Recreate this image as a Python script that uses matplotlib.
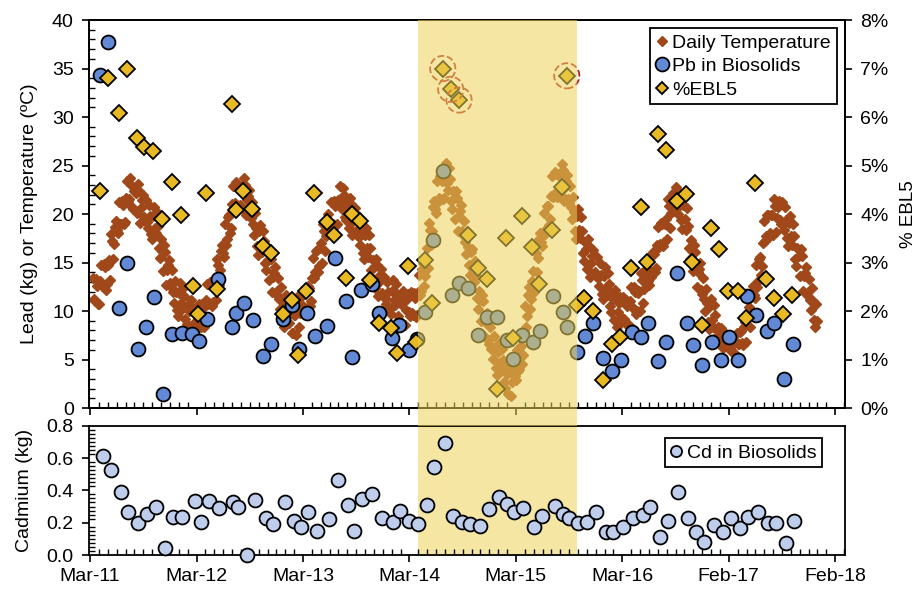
import numpy as np
import matplotlib
matplotlib.use("Agg")
import matplotlib.pyplot as plt
from matplotlib.lines import Line2D
from matplotlib.ticker import FixedLocator, MultipleLocator, FuncFormatter

plt.rcParams['font.family'] = ['Liberation Sans', 'DejaVu Sans']

# ---- x axis (decimal years) ----
tick_labels = ['Mar-11', 'Mar-12', 'Mar-13', 'Mar-14', 'Mar-15', 'Mar-16', 'Feb-17', 'Feb-18']
first_tick = 2011.17
x_min, x_max = 2011.16, 2018.262
shade_start, shade_end = 2014.251, 2015.740

# ---- daily temperature ----
temp_start = 2011.194
temp_step_days = 7
temp_wk = [
    13.4, 11.0, 12.6, 10.7, 14.7, 12.6, 14.5, 12.8, 15.3, 17.9, 15.4, 18.7, 18.4,
    21.2, 19.0, 20.9, 19.2, 23.4, 21.5, 23.0, 20.5, 22.2, 23.1, 19.1, 21.4, 19.7,
    21.4, 18.6, 19.8, 17.4, 20.7, 18.0, 18.8, 15.5, 16.2, 16.8, 12.7, 14.7, 12.9,
    14.2, 10.8, 12.0, 9.5, 12.9, 10.2, 11.5, 8.7, 10.0, 11.1, 7.3, 9.7, 8.6,
    10.7, 8.4, 10.3, 8.7, 12.8, 10.8, 12.8, 10.9, 13.2, 15.4, 12.7, 16.2, 16.0,
    19.0, 17.4, 19.9, 18.6, 22.9, 21.1, 23.0, 20.9, 22.6, 23.7, 19.9, 21.9, 20.0,
    21.2, 17.8, 18.6, 15.8, 18.9, 16.1, 17.2, 14.2, 15.3, 16.1, 12.0, 13.9, 12.0,
    13.4, 10.2, 11.1, 8.4, 11.6, 8.8, 10.0, 7.7, 9.6, 11.4, 8.3, 11.4, 10.5,
    12.4, 10.3, 12.4, 11.0, 15.5, 14.0, 16.3, 14.6, 17.0, 19.0, 16.2, 19.4, 18.7,
    21.2, 19.0, 20.8, 19.0, 22.9, 20.5, 22.0, 19.4, 20.7, 21.7, 17.8, 20.0, 18.2,
    19.8, 16.8, 17.9, 15.4, 18.6, 15.6, 16.5, 13.4, 14.5, 15.4, 11.5, 13.7, 11.9,
    13.5, 10.7, 12.0, 9.7, 13.2, 10.6, 11.8, 9.1, 10.7, 12.1, 8.6, 11.2, 9.9,
    12.0, 9.6, 11.3, 9.6, 13.7, 12.1, 14.9, 13.6, 16.5, 19.1, 16.8, 20.7, 20.5,
    23.4, 21.6, 23.4, 21.6, 25.3, 22.5, 23.6, 20.5, 21.6, 22.4, 18.3, 20.3, 18.2,
    19.3, 15.9, 16.6, 13.7, 16.4, 13.0, 13.6, 10.2, 11.1, 11.7, 7.4, 9.2, 7.0,
    8.3, 5.1, 6.0, 3.4, 6.7, 3.9, 5.0, 2.1, 3.5, 4.7, 1.2, 4.2, 3.3,
    6.0, 4.0, 6.4, 5.5, 10.5, 9.5, 12.5, 11.2, 14.1, 16.7, 14.0, 17.4, 17.1,
    20.1, 18.5, 20.8, 19.5, 23.9, 22.1, 24.1, 22.0, 24.1, 25.2, 21.3, 23.4, 21.5,
    22.9, 19.5, 20.2, 17.4, 20.5, 17.5, 18.3, 15.2, 16.4, 17.4, 13.5, 15.7, 14.0,
    15.6, 12.6, 13.7, 11.2, 14.5, 11.7, 12.8, 9.9, 11.2, 12.2, 8.4, 10.8, 9.4,
    11.4, 8.8, 10.5, 8.6, 12.5, 10.3, 12.0, 10.0, 12.1, 13.9, 10.8, 13.8, 13.1,
    15.7, 13.8, 15.9, 14.4, 18.7, 16.9, 19.0, 17.1, 19.5, 21.5, 18.6, 21.6, 20.7,
    22.8, 20.0, 21.3, 18.5, 21.6, 18.4, 18.8, 15.4, 16.2, 16.8, 12.5, 14.3, 12.2,
    13.4, 10.0, 10.8, 8.1, 11.2, 8.4, 9.6, 7.3, 7.8, 8.2, 6.2, 7.4, 6.5,
    7.3, 5.9, 6.7, 5.6, 7.7, 6.6, 7.9, 6.5, 8.9, 11.1, 8.4, 12.0, 11.7,
    14.7, 13.1, 15.6, 14.6, 19.3, 17.7, 19.9, 18.0, 19.9, 21.5, 18.1, 20.7, 19.4,
    21.2, 18.4, 19.4, 16.7, 19.8, 16.8, 17.7, 14.6, 15.7, 16.4, 12.1, 13.9, 11.9,
    13.3, 10.1, 11.0, 8.3, 9.0,
]
# readings half a week later
temp_midwk = [
    11.2, 13.3, 10.7, 13.1, 12.6, 14.8, 12.2, 14.7, 13.2, 17.2, 16.9, 19.3, 18.0,
    19.0, 21.3, 19.0, 21.6, 21.3, 23.7, 20.7, 22.4, 20.1, 22.4, 20.6, 22.0, 19.3,
    19.2, 20.9, 17.9, 19.8, 18.6, 20.2, 16.5, 17.4, 14.1, 16.1, 14.2, 15.3, 12.5,
    12.0, 13.1, 10.1, 11.9, 10.8, 12.4, 9.2, 10.6, 7.9, 10.4, 8.8, 10.3, 8.2,
    8.5, 10.7, 8.4, 11.1, 10.7, 13.0, 10.5, 12.8, 11.1, 14.7, 14.2, 16.8, 15.6,
    16.8, 19.7, 18.0, 21.0, 20.8, 23.3, 20.7, 22.8, 20.5, 23.0, 21.4, 22.5, 19.6,
    19.0, 20.1, 16.7, 18.2, 16.8, 18.3, 14.9, 16.1, 13.2, 15.4, 13.5, 14.5, 11.6,
    11.2, 12.5, 9.2, 10.8, 9.5, 11.0, 7.7, 9.6, 7.5, 10.7, 9.8, 12.0, 10.1,
    10.2, 12.6, 10.5, 13.4, 13.4, 16.2, 14.0, 16.5, 14.9, 18.3, 17.7, 20.0, 18.3,
    19.0, 21.3, 18.9, 21.4, 20.8, 22.7, 19.7, 21.3, 18.6, 21.0, 19.3, 20.6, 17.8,
    17.6, 19.1, 16.0, 17.8, 16.5, 17.8, 14.2, 15.3, 12.4, 14.7, 13.0, 14.3, 11.5,
    11.3, 13.0, 10.1, 12.1, 11.1, 12.8, 9.5, 11.0, 8.6, 11.4, 10.1, 11.8, 9.5,
    9.8, 11.9, 9.4, 12.0, 11.6, 14.3, 12.6, 15.5, 14.4, 18.4, 18.3, 21.3, 20.1,
    21.2, 23.9, 21.5, 24.0, 23.2, 24.7, 21.3, 22.4, 19.5, 21.7, 19.8, 20.9, 17.8,
    17.1, 18.2, 14.7, 16.1, 14.3, 15.2, 11.3, 12.1, 9.0, 11.0, 8.9, 9.8, 6.6,
    6.1, 7.4, 4.1, 5.8, 4.6, 6.1, 2.7, 4.0, 1.4, 4.0, 2.7, 4.8, 2.9,
    3.8, 6.3, 4.5, 7.9, 8.4, 11.7, 10.2, 13.1, 12.0, 16.0, 15.5, 18.0, 16.7,
    17.9, 20.8, 18.9, 21.9, 21.8, 24.3, 21.8, 23.9, 22.0, 24.5, 22.8, 24.0, 21.1,
    20.7, 21.8, 18.3, 19.8, 18.4, 19.7, 16.0, 17.1, 14.3, 16.7, 15.0, 16.3, 13.6,
    13.4, 14.9, 11.8, 13.6, 12.4, 13.9, 10.5, 11.8, 9.1, 11.5, 9.9, 11.4, 9.0,
    9.2, 11.1, 8.6, 11.0, 10.4, 12.5, 9.7, 11.9, 10.0, 13.2, 12.3, 14.4, 12.7,
    13.5, 16.1, 14.0, 16.8, 16.6, 19.1, 16.7, 19.0, 17.4, 20.8, 20.1, 22.2, 20.3,
    20.6, 22.3, 19.4, 20.9, 19.5, 20.6, 16.5, 17.3, 14.1, 16.1, 14.0, 14.9, 11.8,
    11.2, 12.3, 8.9, 10.5, 9.1, 10.6, 7.3, 8.3, 6.8, 7.9, 7.0, 7.6, 6.3,
    6.2, 7.1, 5.7, 6.8, 6.6, 7.8, 6.7, 8.4, 6.8, 10.4, 9.9, 12.6, 11.3,
    12.5, 15.4, 13.7, 17.0, 17.2, 19.9, 17.6, 19.9, 17.8, 20.8, 19.6, 21.3, 19.0,
    19.0, 20.7, 17.5, 19.1, 17.7, 19.0, 15.4, 16.5, 13.6, 15.7, 13.6, 14.5, 11.5,
    11.1, 12.4, 9.1, 10.7,
]

# ---- Pb in biosolids (kg) ----
pb_year = [
    2011.264, 2011.342, 2011.442, 2011.515, 2011.618, 2011.696, 2011.771, 2011.853, 2011.943, 2012.031,
    2012.131, 2012.194, 2012.269, 2012.370, 2012.501, 2012.542, 2012.617, 2012.698, 2012.792, 2012.870,
    2012.986, 2013.070, 2013.131, 2013.209, 2013.284, 2013.396, 2013.474, 2013.572, 2013.634, 2013.713,
    2013.816, 2013.888, 2014.004, 2014.070, 2014.167, 2014.239, 2014.317, 2014.389, 2014.489, 2014.568,
    2014.639, 2014.724, 2014.818, 2014.897, 2014.996, 2015.084, 2015.141, 2015.231, 2015.329, 2015.397,
    2015.517, 2015.611, 2015.654, 2015.742, 2015.820, 2015.898, 2015.992, 2016.071, 2016.155, 2016.259,
    2016.346, 2016.409, 2016.509, 2016.581, 2016.681, 2016.775, 2016.837, 2016.922, 2017.016, 2017.098,
    2017.173, 2017.260, 2017.339, 2017.426, 2017.527, 2017.598, 2017.692, 2017.771,
]
pb_kg = [
    34.3, 37.7, 10.3, 14.9, 6.1, 8.3, 11.4, 1.4, 7.6, 7.7,
    7.6, 6.9, 9.2, 13.3, 8.35, 9.8, 10.8, 9.1, 5.4, 6.6,
    9.2, 10.6, 6.1, 9.8, 7.4, 8.5, 15.5, 11.0, 5.3, 12.2,
    12.8, 9.8, 7.2, 8.6, 6.0, 7.1, 9.9, 17.3, 24.4, 11.65,
    12.9, 12.4, 7.5, 9.4, 9.35, 7.0, 5.1, 7.5, 6.8, 7.9,
    11.5, 9.9, 8.4, 5.8, 7.4, 8.8, 5.2, 3.85, 4.9, 7.8,
    7.35, 8.8, 4.8, 6.8, 13.95, 8.8, 6.5, 4.4, 6.8, 4.95,
    7.35, 4.95, 11.5, 9.6, 7.9, 8.8, 2.95, 6.55,
]

# ---- %EBL5 ----
ebl_year = [
    2011.264, 2011.336, 2011.440, 2011.515, 2011.614, 2011.680, 2011.765, 2011.849, 2011.940, 2012.022,
    2012.135, 2012.187, 2012.260, 2012.366, 2012.501, 2012.539, 2012.610, 2012.689, 2012.792, 2012.870,
    2012.986, 2013.068, 2013.127, 2013.199, 2013.277, 2013.394, 2013.465, 2013.572, 2013.628, 2013.706,
    2013.803, 2013.885, 2013.995, 2014.057, 2014.160, 2014.232, 2014.317, 2014.380, 2014.483, 2014.558,
    2014.636, 2014.718, 2014.812, 2014.897, 2014.991, 2015.075, 2015.141, 2015.225, 2015.325, 2015.391,
    2015.513, 2015.607, 2015.648, 2015.742, 2015.811, 2015.898, 2015.992, 2016.071, 2016.149, 2016.252,
    2016.346, 2016.400, 2016.503, 2016.581, 2016.681, 2016.769, 2016.828, 2016.916, 2017.004, 2017.082,
    2017.160, 2017.255, 2017.333, 2017.417, 2017.520, 2017.596, 2017.683, 2017.762,
]
ebl_pct = [
    4.47, 6.80, 6.08, 6.98, 5.57, 5.39, 5.30, 3.90, 4.65, 3.98,
    2.52, 1.94, 4.44, 2.45, 6.26, 4.08, 4.47, 4.10, 3.35, 3.19,
    1.94, 2.23, 1.09, 2.41, 4.43, 3.83, 3.57, 2.69, 4.00, 3.86,
    2.64, 1.75, 1.64, 1.13, 2.93, 1.37, 3.05, 2.16, 7.00, 6.57,
    6.35, 3.57, 2.89, 2.65, 0.39, 3.50, 1.44, 3.96, 3.33, 2.55,
    3.67, 4.56, 6.85, 2.12, 2.27, 2.01, 0.58, 1.32, 1.46, 2.88,
    4.15, 3.02, 5.66, 5.32, 4.27, 4.41, 3.02, 1.71, 3.72, 3.27,
    2.42, 2.42, 1.85, 4.63, 2.67, 2.26, 1.93, 2.33,
]
ebl_flagged = [38, 39, 40, 52]   # circled in red

# ---- Cd in biosolids (kg) ----
cd_year = [
    2011.289, 2011.367, 2011.458, 2011.530, 2011.624, 2011.703, 2011.787, 2011.872, 2011.953, 2012.037,
    2012.159, 2012.213, 2012.285, 2012.379, 2012.516, 2012.558, 2012.642, 2012.717, 2012.823, 2012.892,
    2012.999, 2013.086, 2013.149, 2013.221, 2013.305, 2013.418, 2013.500, 2013.596, 2013.650, 2013.722,
    2013.822, 2013.910, 2014.019, 2014.082, 2014.170, 2014.248, 2014.333, 2014.404, 2014.505, 2014.577,
    2014.662, 2014.740, 2014.834, 2014.921, 2015.015, 2015.090, 2015.156, 2015.240, 2015.344, 2015.413,
    2015.538, 2015.616, 2015.673, 2015.757, 2015.836, 2015.921, 2016.014, 2016.086, 2016.174, 2016.268,
    2016.362, 2016.431, 2016.525, 2016.603, 2016.697, 2016.790, 2016.860, 2016.938, 2017.032, 2017.114,
    2017.192, 2017.276, 2017.348, 2017.448, 2017.536, 2017.614, 2017.708, 2017.786,
]
cd_kg = [
    0.614, 0.526, 0.388, 0.268, 0.196, 0.252, 0.295, 0.045, 0.233, 0.237,
    0.334, 0.202, 0.334, 0.289, 0.328, 0.295, 0.0, 0.34, 0.231, 0.19,
    0.33, 0.21, 0.175, 0.264, 0.15, 0.223, 0.464, 0.309, 0.15, 0.345,
    0.377, 0.227, 0.206, 0.274, 0.21, 0.19, 0.309, 0.543, 0.695, 0.241,
    0.206, 0.192, 0.181, 0.285, 0.357, 0.314, 0.268, 0.293, 0.175, 0.241,
    0.305, 0.254, 0.227, 0.196, 0.202, 0.268, 0.144, 0.14, 0.175, 0.227,
    0.248, 0.299, 0.113, 0.21, 0.392, 0.227, 0.14, 0.082, 0.186, 0.144,
    0.227, 0.169, 0.233, 0.268, 0.2, 0.2, 0.076, 0.212,
]

# colours
c_temp = '#A0481A'
c_pb = '#6189D6'
c_ebl = '#E8B923'
c_cd = '#BDCDEB'
c_flag = '#B01E23'
c_band = '#F5E6A3'

step = temp_step_days / 365.25
temp_x = np.concatenate([temp_start + np.arange(len(temp_wk)) * step,
                         temp_start + (np.arange(len(temp_midwk)) + 0.5) * step])
temp_y = np.concatenate([temp_wk, temp_midwk])
major_ticks = [first_tick + k for k in range(len(tick_labels))]
minor_ticks = first_tick + np.arange(-1, 12 * len(tick_labels) + 2) / 12.0

fig = plt.figure(figsize=(9.18, 5.89), dpi=100)
ax = fig.add_axes([0.097, 0.3073, 0.8235, 0.6587])
axc = fig.add_axes([0.097, 0.0577, 0.8235, 0.2196])

# ---------- top panel ----------
ax.plot(temp_x, temp_y, 'D', ms=5.2, color=c_temp, mec=c_temp, ls='none', zorder=2)
ax.plot(pb_year, pb_kg, 'o', ms=10, mfc=c_pb, mec='black', mew=1.3, ls='none', zorder=3)
ax.set_xlim(x_min, x_max)
ax.set_ylim(0, 40)
ax.yaxis.set_major_locator(MultipleLocator(5))
ax.yaxis.set_minor_locator(MultipleLocator(1))
ax.xaxis.set_major_locator(FixedLocator(major_ticks))
ax.xaxis.set_minor_locator(FixedLocator(minor_ticks))
ax.tick_params(which='major', direction='out', length=5, width=1.2, labelsize=14, pad=6)
ax.tick_params(which='minor', direction='in', length=4, width=1)
ax.tick_params(axis='x', labelbottom=False)
ax.set_ylabel('Lead (kg) or Temperature (ºC)', fontsize=14, labelpad=10)

ax2 = ax.twinx()
ax2.plot(ebl_year, ebl_pct, 'D', ms=8.3, mfc=c_ebl, mec='black', mew=1.3, ls='none', zorder=3)
flag_x = [ebl_year[i] for i in ebl_flagged]
flag_y = [ebl_pct[i] for i in ebl_flagged]
ax2.scatter(flag_x, flag_y, s=330, facecolors='none', edgecolors=c_flag,
            linestyles='--', linewidths=1.3, zorder=4)
ax2.set_ylim(0, 8)
ax2.yaxis.set_major_locator(MultipleLocator(1))
ax2.yaxis.set_major_formatter(FuncFormatter(lambda v, p: f'{v:.0f}%'))
ax2.tick_params(axis='y', direction='out', length=5, width=1.2, labelsize=14, pad=6)
ax2.set_ylabel('% EBL5', fontsize=13.5, labelpad=8)

# shaded period, laid over the top panel and down through the gap
gap = (0.2773 - 0.3073) / 0.6587
ax2.axvspan(shade_start, shade_end, ymin=gap, ymax=1, color='#EDD258', alpha=0.55,
            lw=0, zorder=10, clip_on=False)

for a in (ax, ax2):
    for s in a.spines.values():
        s.set_linewidth(1.3)

handles = [
    Line2D([], [], marker='D', ls='none', ms=5, color=c_temp),
    Line2D([], [], marker='o', ls='none', ms=10, mfc=c_pb, mec='black', mew=1.3),
    Line2D([], [], marker='D', ls='none', ms=6.5, mfc=c_ebl, mec='black', mew=1.3),
]
leg = ax2.legend(handles, ['Daily Temperature', 'Pb in Biosolids', '%EBL5'],
                 loc='upper right', bbox_to_anchor=(0.989, 0.979), fontsize=14,
                 frameon=True, fancybox=False, framealpha=1, edgecolor='black',
                 handlelength=0.6, handletextpad=0.25, borderpad=0.3, labelspacing=0.3,
                 borderaxespad=0)
leg.get_frame().set_linewidth(1.3)
leg.set_zorder(20)

# ---------- bottom panel ----------
axc.axvspan(shade_start, shade_end, color=c_band, lw=0, zorder=0)
axc.plot(cd_year, cd_kg, 'o', ms=10, mfc=c_cd, mec='black', mew=1.3, ls='none',
         zorder=3, clip_on=False)
axc.set_xlim(x_min, x_max)
axc.set_ylim(0, 0.8)
axc.yaxis.set_major_locator(MultipleLocator(0.2))
axc.yaxis.set_minor_locator(MultipleLocator(0.025))
axc.yaxis.set_major_formatter(FuncFormatter(lambda v, p: f'{v:.1f}'))
axc.xaxis.set_major_locator(FixedLocator(major_ticks))
axc.xaxis.set_minor_locator(FixedLocator(minor_ticks))
axc.set_xticklabels(tick_labels)
axc.tick_params(which='major', direction='out', length=5, width=1.2, labelsize=14, pad=6)
axc.tick_params(which='minor', direction='in', length=4, width=1)
axc.tick_params(axis='x', pad=4)
axc.set_ylabel('Cadmium (kg)', fontsize=14, labelpad=10)
for s in axc.spines.values():
    s.set_linewidth(1.3)

leg2 = axc.legend([Line2D([], [], marker='o', ls='none', ms=8, mfc=c_cd, mec='black', mew=1.3)],
                  ['Cd in Biosolids'], loc='upper right', bbox_to_anchor=(0.970, 0.903),
                  fontsize=14, frameon=True, fancybox=False, framealpha=1, edgecolor='black',
                  handlelength=0.6, handletextpad=0.25, borderpad=0.3, borderaxespad=0)
leg2.get_frame().set_linewidth(1.3)

fig.savefig('out.png', dpi=100)
